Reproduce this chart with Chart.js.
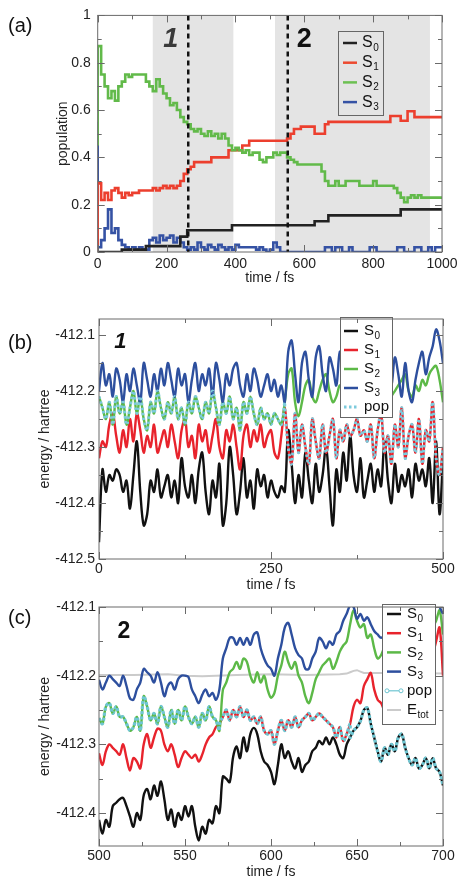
<!DOCTYPE html>
<html>
<head>
<meta charset="utf-8">
<script src="https://cdn.jsdelivr.net/npm/chart.js@4.4.1/dist/chart.umd.min.js"></script>
<style>
  html, body { margin: 0; padding: 0; background: #fff; }
  #wrap { position: relative; width: 467px; height: 885px; }
  #wrap canvas { position: absolute; left: 0; top: 0; }
</style>
</head>
<body>
<div id="wrap">
  <canvas id="popChart" width="467" height="885"></canvas>
  <canvas id="trajOne" width="467" height="885"></canvas>
  <canvas id="trajTwo" width="467" height="885"></canvas>
</div>
<script>
// ---------- (a) state populations, sampled every 10 fs from 0 to 1000 fs ----------
const aStep = 10;
const aS0 = [0,0,0,0,0,0,0,0,0.01,0.01,
  0.01,0.01,0.01,0.01,0.01,0.025,0.025,0.025,0.025,0.025,
  0.025,0.025,0.025,0.025,0.025,0.065,0.065,0.092,0.092,0.092,
  0.092,0.092,0.092,0.092,0.092,0.092,0.092,0.092,0.092,0.092,
  0.113,0.113,0.113,0.113,0.113,0.113,0.113,0.113,0.113,0.113,
  0.113,0.113,0.113,0.113,0.113,0.113,0.113,0.113,0.113,0.113,
  0.113,0.113,0.113,0.113,0.13,0.13,0.13,0.13,0.155,0.155,
  0.155,0.155,0.155,0.155,0.155,0.155,0.155,0.155,0.155,0.155,
  0.155,0.155,0.155,0.155,0.155,0.155,0.155,0.155,0.155,0.18,
  0.18,0.18,0.18,0.18,0.18,0.18,0.18,0.18,0.18,0.18,
  0.18];
const aS1 = [0,0.29,0.22,0.25,0.22,0.26,0.27,0.25,0.23,0.25,
  0.24,0.25,0.25,0.26,0.26,0.26,0.26,0.27,0.26,0.27,
  0.28,0.27,0.28,0.27,0.28,0.30,0.33,0.35,0.36,0.38,
  0.38,0.38,0.38,0.38,0.40,0.40,0.40,0.40,0.40,0.43,
  0.43,0.43,0.43,0.45,0.45,0.47,0.47,0.47,0.47,0.47,
  0.47,0.47,0.47,0.47,0.47,0.47,0.48,0.50,0.52,0.52,
  0.53,0.53,0.53,0.53,0.50,0.50,0.50,0.54,0.55,0.55,
  0.55,0.55,0.55,0.55,0.55,0.55,0.55,0.55,0.55,0.55,
  0.55,0.55,0.55,0.55,0.55,0.55,0.575,0.575,0.575,0.555,
  0.555,0.595,0.595,0.57,0.57,0.57,0.57,0.57,0.57,0.57,
  0.57];
const aS2 = [0.45,0.87,0.75,0.70,0.65,0.68,0.64,0.70,0.72,0.75,
  0.74,0.75,0.75,0.75,0.75,0.72,0.70,0.68,0.73,0.70,
  0.67,0.65,0.62,0.63,0.60,0.57,0.55,0.54,0.52,0.51,
  0.52,0.50,0.49,0.51,0.49,0.50,0.48,0.50,0.48,0.45,
  0.43,0.44,0.43,0.42,0.43,0.41,0.42,0.42,0.39,0.38,
  0.40,0.40,0.42,0.41,0.42,0.42,0.40,0.39,0.38,0.37,
  0.37,0.37,0.37,0.37,0.37,0.37,0.34,0.30,0.28,0.28,
  0.30,0.28,0.28,0.30,0.30,0.30,0.30,0.28,0.28,0.28,
  0.28,0.30,0.28,0.28,0.28,0.28,0.28,0.27,0.25,0.23,
  0.21,0.23,0.24,0.23,0.24,0.23,0.23,0.23,0.23,0.23,
  0.23];
const aS3 = [0.55,0.02,0.05,0.10,0.18,0.08,0.10,0.05,0.03,0.02,
  0.01,0.02,0.01,0.02,0.01,0.01,0.05,0.06,0.04,0.07,
  0.05,0.06,0.07,0.04,0.06,0.04,0.02,0.01,0.02,0.01,
  0.04,0.02,0.01,0.03,0.02,0.01,0.03,0.02,0.01,0.02,
  0.01,0.03,0.02,0.02,0.02,0.02,0.02,0.01,0.02,0.01,
  0,0.01,0.04,0.02,0,0,0,0,0,0,
  0,0,0,0,0,0,0,0.02,0.02,0,
  0.02,0.02,0,0,0.02,0,0,0,0,0,
  0.02,0.02,0,0,0,0,0,0,0.02,0.02,
  0,0,0,0.02,0.02,0,0,0.02,0,0.02,
  0.02];
const aShaded = [[160, 394], [515, 965]];
const aHopLines = [263, 552];
const aXTicks = [0, 200, 400, 600, 800, 1000];
const aXMinor = [100, 300, 500, 700, 900];
const aYTicks = [0, 0.2, 0.4, 0.6, 0.8, 1];
const aYMinor = [0.1, 0.3, 0.5, 0.7, 0.9];

// ---------- (b) trajectory 1 energies, every 5 fs from 0 to 500 fs ----------
const bStep = 5;
const bS0 = [-412.47,-412.34,-412.38,-412.35,-412.36,-412.34,-412.35,-412.38,-412.36,-412.41,
  -412.35,-412.29,-412.38,-412.44,-412.42,-412.36,-412.38,-412.34,-412.39,-412.37,
  -412.35,-412.39,-412.36,-412.40,-412.32,-412.37,-412.39,-412.35,-412.40,-412.34,
  -412.31,-412.38,-412.42,-412.36,-412.39,-412.33,-412.44,-412.40,-412.30,-412.35,
  -412.42,-412.38,-412.32,-412.39,-412.36,-412.41,-412.34,-412.37,-412.35,-412.39,
  -412.36,-412.38,-412.39,-412.37,-412.38,-412.27,-412.33,-412.40,-412.35,-412.39,
  -412.31,-412.36,-412.40,-412.33,-412.38,-412.35,-412.30,-412.37,-412.44,-412.34,
  -412.38,-412.31,-412.36,-412.28,-412.35,-412.38,-412.32,-412.39,-412.36,-412.33,
  -412.38,-412.34,-412.37,-412.29,-412.36,-412.40,-412.33,-412.38,-412.35,-412.37,
  -412.34,-412.39,-412.33,-412.36,-412.34,-412.37,-412.32,-412.40,-412.29,-412.42,
  -412.32];
const bS1 = [-412.32,-412.29,-412.30,-412.26,-412.24,-412.28,-412.31,-412.27,-412.30,-412.25,
  -412.29,-412.24,-412.27,-412.31,-412.28,-412.30,-412.26,-412.31,-412.29,-412.27,
  -412.30,-412.26,-412.29,-412.32,-412.27,-412.25,-412.30,-412.28,-412.32,-412.26,
  -412.29,-412.27,-412.31,-412.28,-412.25,-412.30,-412.32,-412.27,-412.29,-412.26,
  -412.30,-412.34,-412.28,-412.26,-412.30,-412.27,-412.29,-412.26,-412.30,-412.28,
  -412.27,-412.31,-412.32,-412.28,-412.23,-412.30,-412.33,-412.24,-412.31,-412.26,
  -412.30,-412.33,-412.25,-412.29,-412.32,-412.26,-412.31,-412.28,-412.25,-412.32,
  -412.27,-412.29,-412.26,-412.28,-412.27,-412.25,-412.28,-412.27,-412.29,-412.26,
  -412.32,-412.27,-412.24,-412.31,-412.28,-412.33,-412.26,-412.30,-412.23,-412.32,
  -412.28,-412.26,-412.31,-412.25,-412.33,-412.27,-412.29,-412.22,-412.32,-412.35,
  -412.30];
const bS2 = [-412.21,-412.23,-412.25,-412.22,-412.26,-412.21,-412.24,-412.22,-412.26,-412.23,
  -412.20,-412.24,-412.21,-412.25,-412.27,-412.22,-412.24,-412.20,-412.23,-412.25,
  -412.22,-412.24,-412.21,-412.25,-412.23,-412.26,-412.22,-412.24,-412.21,-412.23,
  -412.25,-412.22,-412.24,-412.20,-412.23,-412.26,-412.22,-412.24,-412.21,-412.25,
  -412.23,-412.27,-412.22,-412.24,-412.21,-412.24,-412.26,-412.23,-412.25,-412.24,
  -412.26,-412.24,-412.25,-412.26,-412.22,-412.17,-412.16,-412.22,-412.245,-412.22,
  -412.19,-412.18,-412.21,-412.22,-412.20,-412.18,-412.17,-412.20,-412.22,-412.21,
  -412.19,-412.20,-412.18,-412.19,-412.21,-412.23,-412.21,-412.19,-412.18,-412.20,
  -412.22,-412.19,-412.21,-412.20,-412.23,-412.21,-412.20,-412.19,-412.18,-412.17,
  -412.20,-412.21,-412.19,-412.20,-412.18,-412.19,-412.17,-412.16,-412.155,-412.18,
  -412.22];
const bS3 = [-412.20,-412.15,-412.19,-412.17,-412.21,-412.16,-412.18,-412.22,-412.17,-412.20,
  -412.16,-412.19,-412.22,-412.15,-412.18,-412.21,-412.17,-412.20,-412.16,-412.19,
  -412.15,-412.18,-412.21,-412.16,-412.19,-412.17,-412.22,-412.18,-412.15,-412.20,
  -412.17,-412.19,-412.16,-412.21,-412.15,-412.18,-412.22,-412.17,-412.19,-412.16,
  -412.15,-412.19,-412.21,-412.17,-412.20,-412.16,-412.18,-412.21,-412.19,-412.17,
  -412.20,-412.18,-412.21,-412.19,-412.22,-412.13,-412.11,-412.17,-412.22,-412.15,
  -412.13,-412.18,-412.21,-412.14,-412.12,-412.17,-412.20,-412.14,-412.16,-412.19,
  -412.13,-412.15,-412.19,-412.14,-412.17,-412.20,-412.16,-412.18,-412.15,-412.19,
  -412.17,-412.14,-412.18,-412.20,-412.16,-412.19,-412.14,-412.17,-412.21,-412.15,
  -412.20,-412.22,-412.18,-412.15,-412.13,-412.17,-412.14,-412.12,-412.09,-412.11,
  -412.15];
const bHops = [270];          // pop follows S2, then S1
const bPopStates = [2, 1];
const bXTicks = [0, 250, 500];
const bXMinor = [125, 375];
const bYTicks = [-412.5, -412.4, -412.3, -412.2, -412.1];
const bYMinor = [-412.45, -412.35, -412.25, -412.15];

// ---------- (c) trajectory 2 energies, every 2 fs from 500 to 700 fs ----------
const cStart = 500, cStep = 2;
const cS0 = [-412.41,-412.43,-412.41,-412.42,-412.39,-412.385,-412.38,-412.378,-412.39,-412.405,
  -412.42,-412.40,-412.41,-412.374,-412.365,-412.38,-412.36,-412.375,-412.354,-412.38,
  -412.41,-412.395,-412.42,-412.40,-412.41,-412.39,-412.405,-412.39,-412.42,-412.44,
  -412.42,-412.43,-412.41,-412.415,-412.39,-412.40,-412.347,-412.35,-412.355,-412.318,
  -412.303,-412.32,-412.29,-412.31,-412.285,-412.276,-412.285,-412.31,-412.325,-412.33,
  -412.34,-412.358,-412.33,-412.30,-412.32,-412.31,-412.325,-412.335,-412.32,-412.34,
  -412.33,-412.325,-412.31,-412.305,-412.295,-412.30,-412.29,-412.30,-412.29,-412.30,
  -412.315,-412.32,-412.30,-412.29,-412.28,-412.275,-412.266,-412.25,-412.247,-412.27,
  -412.29,-412.31,-412.325,-412.305,-412.315,-412.30,-412.31,-412.29,-412.285,-412.305,
  -412.32,-412.33,-412.32,-412.335,-412.33,-412.32,-412.335,-412.32,-412.335,-412.34,
  -412.36];
const cS1 = [-412.313,-412.33,-412.31,-412.30,-412.305,-412.31,-412.315,-412.30,-412.32,-412.338,
  -412.32,-412.325,-412.335,-412.30,-412.285,-412.305,-412.29,-412.277,-412.28,-412.30,
  -412.31,-412.30,-412.315,-412.333,-412.32,-412.31,-412.315,-412.32,-412.315,-412.325,
  -412.315,-412.30,-412.29,-412.285,-412.275,-412.27,-412.26,-412.25,-412.265,-412.25,
  -412.26,-412.245,-412.26,-412.25,-412.265,-412.26,-412.27,-412.26,-412.28,-412.285,
  -412.28,-412.30,-412.28,-412.265,-412.28,-412.265,-412.275,-412.26,-412.275,-412.265,
  -412.26,-412.255,-412.265,-412.26,-412.255,-412.26,-412.265,-412.27,-412.275,-412.29,
  -412.275,-412.295,-412.285,-412.27,-412.245,-412.235,-412.24,-412.215,-412.205,-412.196,
  -412.22,-412.235,-412.24,-412.25,-412.235,-412.245,-412.23,-412.24,-412.225,-412.23,
  -412.215,-412.225,-412.21,-412.22,-412.20,-412.21,-412.19,-412.17,-412.15,-412.13,
  -412.20];
const cS2 = [-412.262,-412.27,-412.245,-412.24,-412.255,-412.245,-412.26,-412.26,-412.27,-412.28,
  -412.275,-412.26,-412.28,-412.23,-412.245,-412.265,-412.255,-412.27,-412.245,-412.26,
  -412.275,-412.25,-412.27,-412.25,-412.265,-412.245,-412.26,-412.27,-412.26,-412.275,
  -412.255,-412.265,-412.245,-412.26,-412.265,-412.28,-412.221,-412.21,-412.195,-412.19,
  -412.18,-412.19,-412.175,-412.18,-412.20,-412.21,-412.195,-412.21,-412.20,-412.22,
  -412.232,-412.225,-412.20,-412.185,-412.165,-412.18,-412.19,-412.18,-412.20,-412.21,
  -412.23,-412.24,-412.225,-412.205,-412.195,-412.185,-412.18,-412.175,-412.19,-412.18,
  -412.165,-412.156,-412.15,-412.125,-412.105,-412.12,-412.13,-412.125,-412.145,-412.14,
  -412.16,-412.175,-412.17,-412.16,-412.175,-412.165,-412.15,-412.165,-412.155,-412.145,
  -412.16,-412.15,-412.14,-412.155,-412.145,-412.13,-412.145,-412.13,-412.12,-412.105,
  -412.14];
const cS3 = [-412.206,-412.22,-412.21,-412.20,-412.205,-412.21,-412.215,-412.20,-412.215,-412.233,
  -412.235,-412.22,-412.21,-412.19,-412.195,-412.20,-412.21,-412.195,-412.21,-412.23,
  -412.215,-412.21,-412.22,-412.205,-412.20,-412.20,-412.202,-412.22,-412.23,-412.24,
  -412.228,-412.22,-412.23,-412.225,-412.235,-412.22,-412.175,-412.16,-412.145,-412.145,
  -412.155,-412.145,-412.155,-412.145,-412.155,-412.14,-412.137,-412.16,-412.175,-412.185,
  -412.19,-412.20,-412.175,-412.155,-412.13,-412.123,-412.14,-412.16,-412.17,-412.175,
  -412.19,-412.19,-412.175,-412.165,-412.145,-412.15,-412.16,-412.15,-412.155,-412.14,
  -412.135,-412.12,-412.11,-412.098,-412.10,-412.117,-412.11,-412.12,-412.115,-412.125,
  -412.135,-412.14,-412.145,-412.14,-412.13,-412.12,-412.125,-412.11,-412.12,-412.105,
  -412.11,-412.10,-412.11,-412.095,-412.10,-412.09,-412.10,-412.095,-412.09,-412.10,
  -412.11];
const cEtotTimes = [500, 520, 540, 550, 560, 580, 600, 620, 640, 644, 646, 648, 650, 652, 654, 660, 680, 700];
const cEtot = [-412.199,-412.199,-412.198,-412.200,-412.201,-412.199,-412.198,-412.199,-412.198,-412.197,
  -412.195,-412.193,-412.192,-412.194,-412.196,-412.196,-412.196,-412.197];
const cHops = [570, 646];      // pop follows S2, then S1, then S0
const cPopStates = [2, 1, 0];
const cXTicks = [500, 550, 600, 650, 700];
const cXMinor = [525, 575, 625, 675];
const cYTicks = [-412.4, -412.3, -412.2, -412.1];
const cYMinor = [-412.35, -412.25, -412.15];

[aS0, aS1, aS2, aS3, bS0, bS1, bS2, bS3, cS0, cS1, cS2, cS3].forEach((s, i) => {
  if (s.length !== 101) throw new Error('series ' + i + ' has ' + s.length + ' values');
});

Chart.defaults.font.family = "'Liberation Sans', Arial, sans-serif";
Chart.defaults.font.size = 14;
Chart.defaults.color = '#222';

const col = { s0: '#111111', s1: '#e8232c', s2: '#5cb947', s3: '#2d4f9e', pop: '#7ccadc', etot: '#cbcbcb' };

function points(times, vals) {
  return vals.map((v, i) => ({ x: times[i], y: v }));
}

function popPoints(times, states, seq, hops) {
  const pts = [];
  times.forEach((t, i) => {
    seq.forEach((st, k) => {
      const from = k === 0 ? -Infinity : hops[k - 1];
      const to = k === seq.length - 1 ? Infinity : hops[k];
      if (t >= from && t <= to) pts.push({ x: t, y: states[st][i] });
    });
  });
  return pts;
}

// box with inward ticks on all four sides
function framePlugin(t) {
  return {
    id: 'frame',
    afterDraw(chart) {
      const { ctx, chartArea: a, scales } = chart;
      ctx.save();
      ctx.strokeStyle = '#6a6a6a';
      ctx.lineWidth = 1;
      ctx.strokeRect(a.left, a.top, a.right - a.left, a.bottom - a.top);
      ctx.beginPath();
      const xt = (vals, len) => vals.forEach(v => {
        const x = Math.round(scales.x.getPixelForValue(v)) + 0.5;
        ctx.moveTo(x, a.bottom); ctx.lineTo(x, a.bottom - len);
        ctx.moveTo(x, a.top); ctx.lineTo(x, a.top + len);
      });
      const yt = (vals, len) => vals.forEach(v => {
        const y = Math.round(scales.y.getPixelForValue(v)) + 0.5;
        ctx.moveTo(a.left, y); ctx.lineTo(a.left + len, y);
        ctx.moveTo(a.right, y); ctx.lineTo(a.right - len, y);
      });
      xt(t.xMajor, 7); xt(t.xMinor, 4);
      yt(t.yMajor, 7); yt(t.yMinor, 4);
      ctx.stroke();
      ctx.restore();
    }
  };
}

function legendPlugin(cfg) {
  return {
    id: 'boxLegend',
    afterDatasetsDraw(chart) {
      const ctx = chart.ctx;
      const b = cfg.box;
      ctx.save();
      if (cfg.fill) { ctx.fillStyle = cfg.fill; ctx.fillRect(b.x, b.y, b.w, b.h); }
      ctx.strokeStyle = '#666';
      ctx.lineWidth = 1;
      ctx.strokeRect(b.x + 0.5, b.y + 0.5, b.w, b.h);
      cfg.items.forEach((it, i) => {
        const y = cfg.rowY + i * cfg.rowGap;
        ctx.strokeStyle = it.color;
        ctx.lineWidth = it.width || 2.5;
        ctx.setLineDash(it.dash || []);
        ctx.beginPath();
        ctx.moveTo(cfg.x0, y); ctx.lineTo(cfg.x1, y);
        ctx.stroke();
        ctx.setLineDash([]);
        if (it.marker) {
          ctx.lineWidth = 1;
          [cfg.x0, cfg.x1].forEach(x => { ctx.beginPath(); ctx.arc(x, y, 2, 0, Math.PI * 2); ctx.fillStyle = '#fff'; ctx.fill(); ctx.stroke(); });
        }
        ctx.fillStyle = '#111';
        ctx.textAlign = 'left';
        ctx.textBaseline = 'middle';
        ctx.font = cfg.font;
        ctx.fillText(it.label, cfg.textX, y);
        if (it.sub) {
          const w = ctx.measureText(it.label).width;
          ctx.font = cfg.subFont;
          ctx.fillText(it.sub, cfg.textX + w + 0.5, y + cfg.subDy);
        }
      });
      ctx.restore();
    }
  };
}

// panel letter plus the big trajectory numbers
function notesPlugin(cfg) {
  return {
    id: 'notes',
    afterDraw(chart) {
      const { ctx, scales } = chart;
      ctx.save();
      ctx.textBaseline = 'middle';
      ctx.fillStyle = '#111';
      ctx.font = "20px 'Liberation Sans', Arial, sans-serif";
      ctx.textAlign = 'left';
      ctx.fillText(cfg.letter.text, cfg.letter.x, cfg.letter.y);
      cfg.marks.forEach(m => {
        ctx.font = m.font;
        ctx.fillStyle = m.color;
        ctx.textAlign = 'center';
        ctx.fillText(m.text, scales.x.getPixelForValue(m.x), scales.y.getPixelForValue(m.y));
      });
      ctx.restore();
    }
  };
}

function shadePlugin(ranges, hopLines) {
  return {
    id: 'shade',
    beforeDatasetsDraw(chart) {
      const { ctx, chartArea: a, scales } = chart;
      ctx.save();
      ctx.fillStyle = '#e4e4e4';
      ranges.forEach(([s, e]) => {
        const x0 = scales.x.getPixelForValue(s), x1 = scales.x.getPixelForValue(e);
        ctx.fillRect(x0, a.top, x1 - x0, a.bottom - a.top);
      });
      ctx.restore();
    },
    afterDatasetsDraw(chart) {
      const { ctx, chartArea: a, scales } = chart;
      ctx.save();
      ctx.strokeStyle = '#111';
      ctx.lineWidth = 2.5;
      ctx.setLineDash([5, 4]);
      hopLines.forEach(t => {
        const x = scales.x.getPixelForValue(t);
        ctx.beginPath(); ctx.moveTo(x, a.top); ctx.lineTo(x, a.bottom); ctx.stroke();
      });
      ctx.restore();
    }
  };
}

function axes(o) {
  return {
    x: {
      type: 'linear', min: o.xMin, max: o.xMax,
      grid: { display: false, drawTicks: false }, border: { display: false },
      afterBuildTicks: s => { s.ticks = o.xTicks.map(v => ({ value: v })); },
      afterFit: s => { s.height = o.xHeight; },
      ticks: { padding: o.xPad, autoSkip: false, maxRotation: 0, callback: v => String(v) },
      title: { display: true, text: 'time / fs', padding: 4 }
    },
    y: {
      type: 'linear', min: o.yMin, max: o.yMax,
      grid: { display: false, drawTicks: false }, border: { display: false },
      afterBuildTicks: s => { s.ticks = o.yTicks.map(v => ({ value: v })); },
      afterFit: s => { s.width = o.yWidth; },
      ticks: { padding: o.yPad, autoSkip: false, callback: v => String(v) },
      title: { display: true, text: o.yTitle, padding: 4 }
    }
  };
}

const base = {
  responsive: false,
  animation: false,
  devicePixelRatio: 1,
  events: [],
  plugins: { legend: { display: false }, tooltip: { enabled: false } },
  elements: { point: { radius: 0 }, line: { borderWidth: 2.4, tension: 0.35 } }
};

// ---- (a)
const aTimes = aS0.map((_, i) => i * aStep);
const aLine = (label, vals, color, order) => ({
  label, data: points(aTimes, vals), borderColor: color, stepped: 'after', borderWidth: 2.6, order
});
new Chart(document.getElementById('popChart'), {
  type: 'line',
  data: { datasets: [
    aLine('S0', aS0, '#222222', 0),
    aLine('S1', aS1, '#ec3f2e', 2),
    aLine('S2', aS2, '#62ba4a', 1),
    aLine('S3', aS3, '#3552a4', 3)
  ] },
  options: Object.assign({}, base, {
    layout: { padding: { left: 50.6, top: 14, right: 25, bottom: 594.6 } },
    scales: axes({ xMin: 0, xMax: 1000, yMin: 0, yMax: 1, xTicks: aXTicks, yTicks: aYTicks,
      xHeight: 38.4, yWidth: 47.1, xPad: 4, yPad: 7, yTitle: 'population' })
  }),
  plugins: [
    shadePlugin(aShaded, aHopLines),
    legendPlugin({
      box: { x: 338, y: 31, w: 45, h: 84 }, rowY: 43, rowGap: 19.7, x0: 343, x1: 357, textX: 362,
      font: "16px 'Liberation Sans', Arial, sans-serif", subFont: "10px 'Liberation Sans', Arial, sans-serif", subDy: 5,
      items: [
        { label: 'S', sub: '0', color: '#222222' },
        { label: 'S', sub: '1', color: '#ec4a30' },
        { label: 'S', sub: '2', color: '#6cc052' },
        { label: 'S', sub: '3', color: '#3552a4' }
      ]
    }),
    framePlugin({ xMajor: aXTicks, xMinor: aXMinor, yMajor: aYTicks, yMinor: aYMinor }),
    notesPlugin({
      letter: { text: '(a)', x: 8, y: 26 },
      marks: [
        { text: '1', x: 212, y: 0.9, font: "italic bold 27px 'Liberation Sans', Arial, sans-serif", color: '#3a3a3a' },
        { text: '2', x: 600, y: 0.9, font: "bold 27px 'Liberation Sans', Arial, sans-serif", color: '#111' }
      ]
    })
  ]
});

// ---- (b)
const bTimes = bS0.map((_, i) => i * bStep);
const bStates = [bS0, bS1, bS2, bS3];
new Chart(document.getElementById('trajOne'), {
  type: 'line',
  data: { datasets: [
    { label: 'pop', data: popPoints(bTimes, bStates, bPopStates, bHops), borderColor: col.pop, borderWidth: 3, borderDash: [2.5, 2.5], order: 0 },
    { label: 'S3', data: points(bTimes, bS3), borderColor: col.s3, order: 1 },
    { label: 'S2', data: points(bTimes, bS2), borderColor: col.s2, order: 2 },
    { label: 'S1', data: points(bTimes, bS1), borderColor: col.s1, order: 3 },
    { label: 'S0', data: points(bTimes, bS0), borderColor: col.s0, order: 4 }
  ] },
  options: Object.assign({}, base, {
    layout: { padding: { left: 32.6, top: 319, right: 24, bottom: 287.6 } },
    scales: axes({ xMin: 0, xMax: 500, yMin: -412.5, yMax: -412.0714, xTicks: bXTicks, yTicks: bYTicks,
      xHeight: 38.4, yWidth: 66.4, xPad: 2, yPad: 4, yTitle: 'energy / hartree' })
  }),
  plugins: [
    legendPlugin({
      box: { x: 340, y: 317, w: 52, h: 100 }, rowY: 331, rowGap: 19, x0: 344, x1: 358, textX: 364,
      font: "15px 'Liberation Sans', Arial, sans-serif", subFont: "10px 'Liberation Sans', Arial, sans-serif", subDy: 5,
      fill: '#fff',
      items: [
        { label: 'S', sub: '0', color: col.s0 },
        { label: 'S', sub: '1', color: col.s1 },
        { label: 'S', sub: '2', color: col.s2 },
        { label: 'S', sub: '3', color: col.s3 },
        { label: 'pop', color: col.pop, dash: [2.5, 2.5], width: 3 }
      ]
    }),
    framePlugin({ xMajor: bXTicks, xMinor: bXMinor, yMajor: bYTicks, yMinor: bYMinor }),
    notesPlugin({
      letter: { text: '(b)', x: 8, y: 343 },
      marks: [
        { text: '1', x: 31, y: -412.1125, font: "italic bold 22px 'Liberation Sans', Arial, sans-serif", color: '#111' }
      ]
    })
  ]
});

// ---- (c)
const cTimes = cS0.map((_, i) => cStart + i * cStep);
const cStates = [cS0, cS1, cS2, cS3];
new Chart(document.getElementById('trajTwo'), {
  type: 'line',
  data: { datasets: [
    { label: 'pop', data: popPoints(cTimes, cStates, cPopStates, cHops), borderColor: '#6fc6d2', borderWidth: 3.2, borderDash: [3, 2], order: 0 },
    { label: 'S3', data: points(cTimes, cS3), borderColor: col.s3, order: 1 },
    { label: 'S2', data: points(cTimes, cS2), borderColor: col.s2, order: 2 },
    { label: 'S1', data: points(cTimes, cS1), borderColor: col.s1, order: 3 },
    { label: 'S0', data: points(cTimes, cS0), borderColor: col.s0, order: 4 },
    { label: 'Etot', data: points(cEtotTimes, cEtot), borderColor: col.etot, borderWidth: 2, tension: 0, order: 5 }
  ] },
  options: Object.assign({}, base, {
    layout: { padding: { left: 32.6, top: 607, right: 24, bottom: 0.6 } },
    scales: axes({ xMin: 500, xMax: 700, yMin: -412.448, yMax: -412.1, xTicks: cXTicks, yTicks: cYTicks,
      xHeight: 38.4, yWidth: 66.4, xPad: 2, yPad: 3, yTitle: 'energy / hartree' })
  }),
  plugins: [
    legendPlugin({
      box: { x: 382, y: 604, w: 53, h: 120 }, rowY: 614, rowGap: 19.2, x0: 387, x1: 401, textX: 407,
      font: "15px 'Liberation Sans', Arial, sans-serif", subFont: "10px 'Liberation Sans', Arial, sans-serif", subDy: 5,
      fill: '#fff',
      items: [
        { label: 'S', sub: '0', color: col.s0 },
        { label: 'S', sub: '1', color: col.s1 },
        { label: 'S', sub: '2', color: col.s2 },
        { label: 'S', sub: '3', color: col.s3 },
        { label: 'pop', color: '#6fc6d2', width: 1.2, marker: true },
        { label: 'E', sub: 'tot', color: col.etot, width: 2 }
      ]
    }),
    framePlugin({ xMajor: cXTicks, xMinor: cXMinor, yMajor: cYTicks, yMinor: cYMinor }),
    notesPlugin({
      letter: { text: '(c)', x: 8, y: 618 },
      marks: [
        { text: '2', x: 514.5, y: -412.136, font: "bold 23px 'Liberation Sans', Arial, sans-serif", color: '#111' }
      ]
    })
  ]
});
</script>
</body>
</html>
